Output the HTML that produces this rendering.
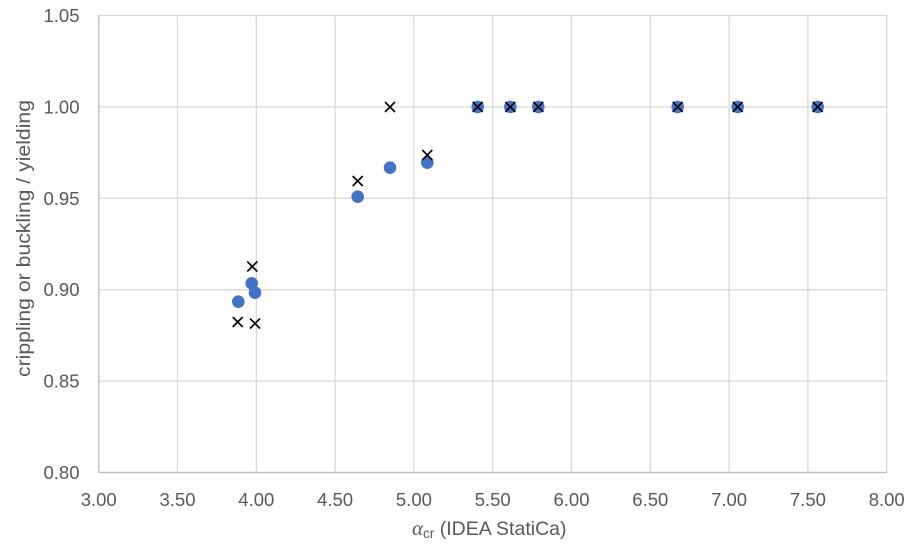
<!DOCTYPE html>
<html>
<head>
<meta charset="utf-8">
<style>
  html,body{margin:0;padding:0;background:#fff;}
  svg{display:block;}
  text{font-family:"Liberation Sans",Arial,sans-serif;fill:#595959;}
</style>
</head>
<body>
<svg width="914" height="556" viewBox="0 0 914 556" xmlns="http://www.w3.org/2000/svg">
  <rect x="0" y="0" width="914" height="556" fill="#fff"/>
  <!-- horizontal gridlines -->
  <g stroke="#d9d9d9" stroke-width="1.3">
    <line x1="98.7" y1="15.5" x2="886.7" y2="15.5"/>
    <line x1="98.7" y1="106.9" x2="886.7" y2="106.9"/>
    <line x1="98.7" y1="198.3" x2="886.7" y2="198.3"/>
    <line x1="98.7" y1="289.7" x2="886.7" y2="289.7"/>
    <line x1="98.7" y1="381.1" x2="886.7" y2="381.1"/>
    <!-- vertical gridlines -->
    <line x1="177.5" y1="15.5" x2="177.5" y2="472.5"/>
    <line x1="256.3" y1="15.5" x2="256.3" y2="472.5"/>
    <line x1="335.1" y1="15.5" x2="335.1" y2="472.5"/>
    <line x1="413.9" y1="15.5" x2="413.9" y2="472.5"/>
    <line x1="492.7" y1="15.5" x2="492.7" y2="472.5"/>
    <line x1="571.5" y1="15.5" x2="571.5" y2="472.5"/>
    <line x1="650.3" y1="15.5" x2="650.3" y2="472.5"/>
    <line x1="729.1" y1="15.5" x2="729.1" y2="472.5"/>
    <line x1="807.9" y1="15.5" x2="807.9" y2="472.5"/>
    <line x1="886.7" y1="15.5" x2="886.7" y2="472.5"/>
  </g>
  <!-- axes -->
  <g stroke="#bfbfbf" stroke-width="1.4">
    <line x1="98.7" y1="15.5" x2="98.7" y2="472.5"/>
    <line x1="98.7" y1="472.5" x2="886.7" y2="472.5"/>
  </g>

  <!-- y tick labels -->
  <g font-size="18.5" text-anchor="end">
    <text x="79.5" y="22">1.05</text>
    <text x="79.5" y="113.4">1.00</text>
    <text x="79.5" y="204.8">0.95</text>
    <text x="79.5" y="296.2">0.90</text>
    <text x="79.5" y="387.6">0.85</text>
    <text x="79.5" y="479">0.80</text>
  </g>
  <!-- x tick labels -->
  <g font-size="18.5" text-anchor="middle">
    <text x="98.7" y="506">3.00</text>
    <text x="177.5" y="506">3.50</text>
    <text x="256.3" y="506">4.00</text>
    <text x="335.1" y="506">4.50</text>
    <text x="413.9" y="506">5.00</text>
    <text x="492.7" y="506">5.50</text>
    <text x="571.5" y="506">6.00</text>
    <text x="650.3" y="506">6.50</text>
    <text x="729.1" y="506">7.00</text>
    <text x="807.9" y="506">7.50</text>
    <text x="886.7" y="506">8.00</text>
  </g>

  <!-- axis titles -->
  <text transform="translate(30,238.5) rotate(-90)" font-size="19.5" text-anchor="middle" textLength="277" lengthAdjust="spacingAndGlyphs">crippling or buckling / yielding</text>
  <text x="412" y="535" font-size="19.5"><tspan font-family="Liberation Serif" font-style="italic" font-size="21">α</tspan><tspan font-size="13.5" dy="3">cr</tspan><tspan dy="-3" font-size="19.5"> (IDEA StatiCa)</tspan></text>

  <!-- circles -->
  <g fill="#4472C4">
    <circle cx="238.3" cy="301.7" r="6.3"/>
    <circle cx="251.7" cy="283.3" r="6.3"/>
    <circle cx="255" cy="292.7" r="6.3"/>
    <circle cx="357.7" cy="196.7" r="6.3"/>
    <circle cx="390" cy="167.7" r="6.3"/>
    <circle cx="427.3" cy="162.7" r="6.3"/>
    <circle cx="477.7" cy="106.9" r="6.3"/>
    <circle cx="510.3" cy="106.9" r="6.3"/>
    <circle cx="538.3" cy="106.9" r="6.3"/>
    <circle cx="677.7" cy="106.9" r="6.3"/>
    <circle cx="737.7" cy="106.9" r="6.3"/>
    <circle cx="817.7" cy="106.9" r="6.3"/>
  </g>
  <!-- crosses -->
  <g stroke="#000" stroke-width="1.6" fill="none">
    <path d="M247.3 261.5l10 10M257.3 261.5l-10 10"/>
    <path d="M232.7 317l10 10M242.7 317l-10 10"/>
    <path d="M250 318.5l10 10M260 318.5l-10 10"/>
    <path d="M352.7 176l10 10M362.7 176l-10 10"/>
    <path d="M385 102l10 10M395 102l-10 10"/>
    <path d="M422.3 150l10 10M432.3 150l-10 10"/>
    <path d="M472.7 101.9l10 10M482.7 101.9l-10 10"/>
    <path d="M505.3 101.9l10 10M515.3 101.9l-10 10"/>
    <path d="M533.3 101.9l10 10M543.3 101.9l-10 10"/>
    <path d="M672.7 101.9l10 10M682.7 101.9l-10 10"/>
    <path d="M732.7 101.9l10 10M742.7 101.9l-10 10"/>
    <path d="M812.7 101.9l10 10M822.7 101.9l-10 10"/>
  </g>
</svg>
</body>
</html>
